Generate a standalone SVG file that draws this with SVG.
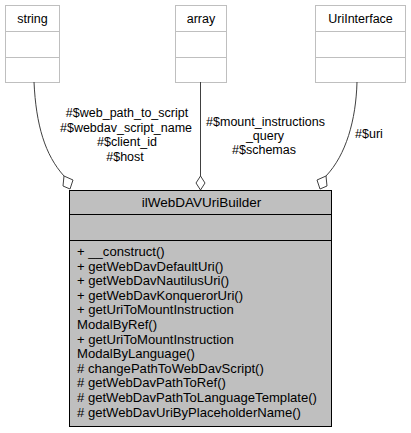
<svg xmlns="http://www.w3.org/2000/svg" width="411" height="433" viewBox="0 0 411 433">
<style>
text{font-family:"Liberation Sans",Arial,sans-serif;font-size:13.1px;fill:#000}
.c{text-anchor:middle}
.lbl{font-size:12.5px}
.ttl{font-size:13.5px}
.ext{fill:#fff;stroke:#bfbfbf;stroke-width:1}
.main{fill:#bfbfbf;stroke:#000;stroke-width:1}
.edge{fill:none;stroke:#404040;stroke-width:1}
.dia{fill:#fff;stroke:#404040;stroke-width:1}
</style>
<rect width="411" height="433" fill="#fff"/>
<g id="node-string">
<rect class="ext" x="5.5" y="5.5" width="54" height="77"/>
<line class="ext" x1="5.5" y1="31.5" x2="59.5" y2="31.5"/>
<line class="ext" x1="5.5" y1="57.5" x2="59.5" y2="57.5"/>
<text class="c lbl" x="32.5" y="22.5">string</text>
</g>
<g id="node-array">
<rect class="ext" x="175.5" y="5.5" width="51" height="77"/>
<line class="ext" x1="175.5" y1="31.5" x2="226.5" y2="31.5"/>
<line class="ext" x1="175.5" y1="57.5" x2="226.5" y2="57.5"/>
<text class="c lbl" x="201" y="22.5">array</text>
</g>
<g id="node-uriinterface">
<rect class="ext" x="315.5" y="5.5" width="90" height="77"/>
<line class="ext" x1="315.5" y1="31.5" x2="405.5" y2="31.5"/>
<line class="ext" x1="315.5" y1="57.5" x2="405.5" y2="57.5"/>
<text class="c lbl" x="360.5" y="22.5">UriInterface</text>
</g>
<g id="connectors">
<path class="edge" d="M34,82 C36,125 45,155 64,176"/>
<polygon class="dia" points="64,176 73,180 70,189 63,186"/>
<path class="edge" d="M200.5,82 L200.5,176"/>
<polygon class="dia" points="200.5,176 205,183 200.5,190 196,183"/>
<path class="edge" d="M357,82 C356,120 346,155 326,176"/>
<polygon class="dia" points="326,176 327,186 320,189 317,180"/>
<text class="c lbl" x="127" y="117">#$web_path_to_script</text>
<text class="c lbl" x="126" y="131.5">#$webdav_script_name</text>
<text class="c lbl" x="127" y="146">#$client_id</text>
<text class="c lbl" x="125" y="160.5">#$host</text>
<text class="c lbl" x="265.5" y="125.5">#$mount_instructions</text>
<text class="c lbl" x="265" y="140">_query</text>
<text class="c lbl" x="264" y="154">#$schemas</text>
<text class="c lbl" x="369" y="138">#$uri</text>
</g>
<g id="node-ilWebDAVUriBuilder">
<rect class="main" x="69.5" y="190.5" width="262" height="236"/>
<line class="main" x1="69.5" y1="214.5" x2="331.5" y2="214.5"/>
<line class="main" x1="69.5" y1="240.5" x2="331.5" y2="240.5"/>
<text class="c ttl" x="201.5" y="206.5">ilWebDAVUriBuilder</text>
<text x="77" y="256">+ __construct()</text>
<text x="77" y="270.6">+ getWebDavDefaultUri()</text>
<text x="77" y="285.2">+ getWebDavNautilusUri()</text>
<text x="77" y="299.8">+ getWebDavKonquerorUri()</text>
<text x="77" y="314.4">+ getUriToMountInstruction</text>
<text x="77" y="329">ModalByRef()</text>
<text x="77" y="343.6">+ getUriToMountInstruction</text>
<text x="77" y="358.2">ModalByLanguage()</text>
<text x="77" y="372.8"># changePathToWebDavScript()</text>
<text x="77" y="387.4"># getWebDavPathToRef()</text>
<text x="77" y="402"># getWebDavPathToLanguageTemplate()</text>
<text x="77" y="416.6"># getWebDavUriByPlaceholderName()</text>
</g>
</svg>
